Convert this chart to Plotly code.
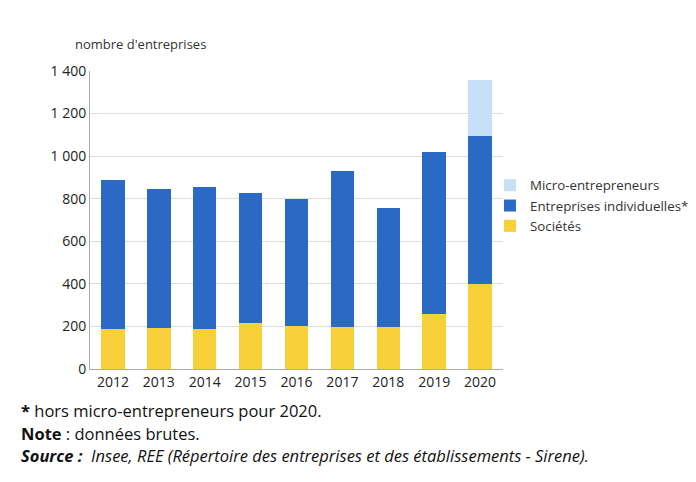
import plotly.graph_objects as go

years = ["2012", "2013", "2014", "2015", "2016", "2017", "2018", "2019", "2020"]
societes = [187, 192, 187, 214, 201, 197, 197, 259, 400]
entreprises_indiv = [702, 655, 666, 612, 599, 731, 561, 761, 697]
micro = [None, None, None, None, None, None, None, None, 259]
y_ticks = [0, 200, 400, 600, 800, 1000, 1200, 1400]
y_tick_labels = ["0", "200", "400", "600", "800", "1 000", "1 200", "1 400"]

FONT = "Open Sans"

fig = go.Figure()
fig.add_trace(go.Bar(x=years, y=societes, name="Sociétés", marker_color="#F7D03A",
                     marker_line_width=0))
fig.add_trace(go.Bar(x=years, y=entreprises_indiv, name="Entreprises individuelles*",
                     marker_color="#2A69C4", marker_line_width=0))
fig.add_trace(go.Bar(x=years, y=micro, name="Micro-entrepreneurs", marker_color="#C6E0F8",
                     marker_line_width=0))

fig.update_layout(
    barmode="stack",
    bargap=0.49,
    width=688, height=474,
    margin=dict(l=82, r=193, t=63, b=113, autoexpand=False),
    paper_bgcolor="white", plot_bgcolor="white",
    font=dict(family=FONT, size=14, color="#333333"),
    showlegend=True,
    legend=dict(xref="container", yref="container", x=0.7006, y=0.658,
                xanchor="left", yanchor="top",
                traceorder="reversed", font=dict(size=13.3, color="#333333"),
                itemwidth=30, tracegroupgap=0, bgcolor="rgba(0,0,0,0)"),
    xaxis=dict(showline=True, linecolor="#AAAAAA", linewidth=1, ticks="",
               tickfont=dict(size=14, color="#222222")),
    yaxis=dict(range=[0, 1400], tickvals=y_ticks, ticktext=y_tick_labels,
               showgrid=True, gridcolor="#DDDDDD", gridwidth=1,
               showline=True, linecolor="#AAAAAA", linewidth=1,
               zeroline=False, ticks="", tickfont=dict(size=14, color="#222222")),
)

fig.add_annotation(text="nombre d'entreprises", xref="paper", yref="paper",
                   x=-0.04, y=1.053, xanchor="left", yanchor="bottom", showarrow=False,
                   font=dict(size=13, color="#333333"))
fig.add_annotation(text="<b>*</b> hors micro-entrepreneurs pour 2020.", xref="paper", yref="paper",
                   x=-0.173, y=-0.095, xanchor="left", yanchor="top", showarrow=False,
                   font=dict(size=16.5, color="#111111"))
fig.add_annotation(text="<b>Note</b> : données brutes.", xref="paper", yref="paper",
                   x=-0.173, y=-0.17, xanchor="left", yanchor="top", showarrow=False,
                   font=dict(size=16.5, color="#111111"))
fig.add_annotation(text="<b><i>Source :</i></b>  <i>Insee, REE (Répertoire des entreprises et des établissements - Sirene).</i>",
                   xref="paper", yref="paper",
                   x=-0.173, y=-0.245, xanchor="left", yanchor="top", showarrow=False,
                   font=dict(size=16.5, color="#111111"))

fig.write_html("out.html")
